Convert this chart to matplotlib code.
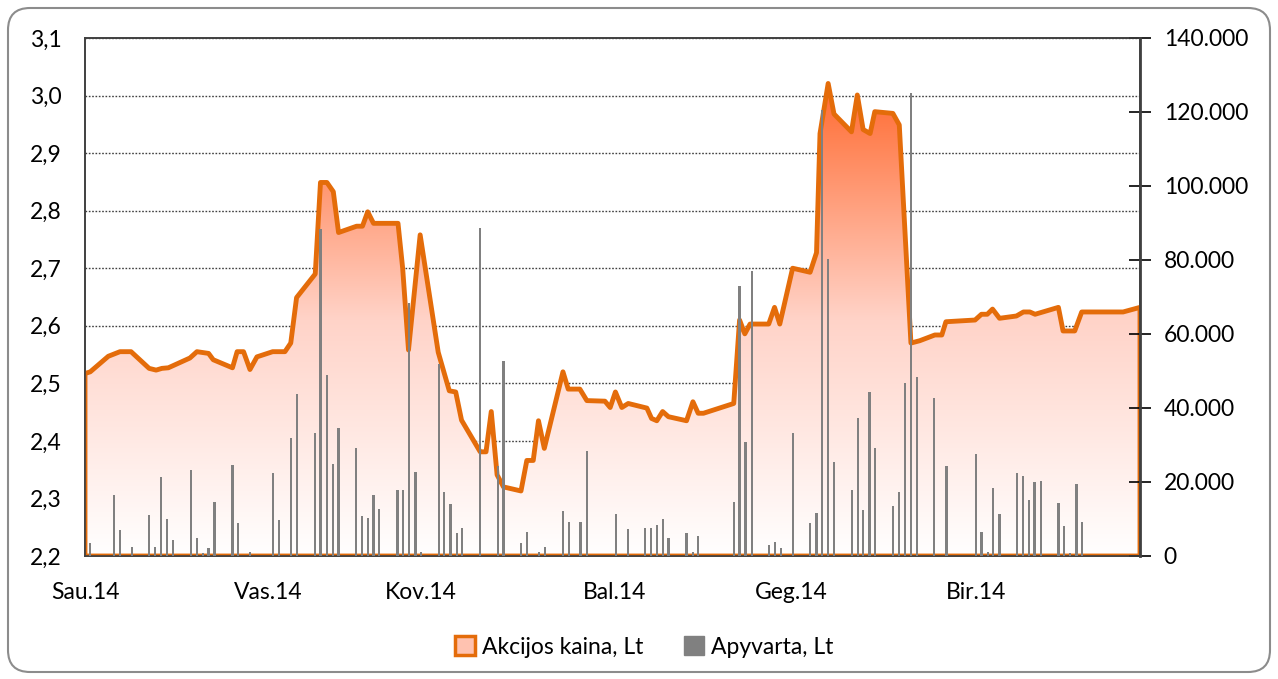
import numpy as np
import matplotlib
matplotlib.use("Agg")
import matplotlib.pyplot as plt
from matplotlib.colors import LinearSegmentedColormap
from matplotlib.patches import Patch, FancyBboxPatch
from matplotlib.ticker import FuncFormatter

plt.rcParams['font.family'] = ['Lato', 'DejaVu Sans']

# kaina: diena nuo sausio 1 d. ir kaina, Lt
price_days = [0, 0.9, 4.0, 6.0, 7.9, 11.0, 12.2, 13.2, 14.3, 18.0,
              19.2, 21.2, 22.0, 25.3, 26.1, 27.2, 28.3, 29.5, 32.2, 34.3,
              35.3, 36.3, 39.5, 40.4, 41.5, 42.6, 43.5, 46.6, 47.6, 48.5,
              49.5, 53.7, 54.5, 55.5, 57.5, 60.6, 62.5, 63.6, 64.6, 67.8,
              68.8, 69.7, 70.7, 71.8, 74.8, 75.8, 76.9, 77.8, 78.8, 82.0,
              82.9, 84.9, 86.1, 89.2, 90.1, 91.0, 92.1, 93.2, 96.4, 97.2,
              98.1, 99.1, 100.1, 103.2, 104.3, 105.2, 106.1, 111.3, 112.3, 113.2,
              114.1, 117.3, 118.3, 119.2, 121.4, 124.4, 125.5, 126.1, 127.5, 128.5,
              131.5, 132.5, 133.5, 134.7, 135.5, 138.6, 139.7, 141.7, 143.2, 145.8,
              147.0, 147.7, 152.7, 153.8, 154.8, 155.7, 156.9, 159.8, 161.0, 162.1,
              163.0, 167.0, 167.8, 169.8, 171.0, 178.1, 181.0]
price = [2.517, 2.520, 2.547, 2.555, 2.555, 2.526, 2.523, 2.526, 2.527, 2.544,
         2.555, 2.552, 2.541, 2.527, 2.555, 2.555, 2.524, 2.546, 2.555, 2.555,
         2.570, 2.649, 2.690, 2.849, 2.849, 2.833, 2.762, 2.773, 2.773, 2.798,
         2.778, 2.778, 2.700, 2.558, 2.758, 2.554, 2.487, 2.485, 2.436, 2.381,
         2.381, 2.451, 2.341, 2.320, 2.313, 2.366, 2.366, 2.435, 2.387, 2.520,
         2.490, 2.490, 2.470, 2.469, 2.458, 2.485, 2.458, 2.465, 2.457, 2.439,
         2.435, 2.451, 2.442, 2.435, 2.468, 2.448, 2.448, 2.465, 2.610, 2.586,
         2.603, 2.603, 2.632, 2.603, 2.700, 2.693, 2.727, 2.934, 3.021, 2.968,
         2.937, 3.001, 2.941, 2.934, 2.972, 2.969, 2.949, 2.570, 2.574, 2.584,
         2.584, 2.607, 2.610, 2.620, 2.620, 2.629, 2.613, 2.617, 2.624, 2.624,
         2.620, 2.632, 2.591, 2.591, 2.624, 2.624, 2.632]

# apyvarta, Lt
vol_days = [0.9, 5.0, 6.0, 8.0, 11.0, 12.0, 13.0, 14.1, 15.1, 18.2,
            19.2, 20.2, 21.2, 22.2, 25.3, 26.3, 28.3, 32.3, 33.3, 35.3,
            36.4, 39.5, 40.4, 41.5, 42.5, 43.5, 46.5, 47.5, 48.5, 49.5,
            50.5, 53.6, 54.6, 55.6, 56.7, 57.6, 60.7, 61.6, 62.7, 63.8,
            64.7, 67.8, 70.8, 71.8, 74.8, 75.8, 77.9, 78.9, 82.0, 83.0,
            85.0, 86.1, 91.1, 93.1, 96.1, 97.1, 98.1, 99.1, 100.1, 103.2,
            104.3, 105.2, 111.3, 112.3, 113.3, 114.4, 117.4, 118.4, 119.4, 121.5,
            124.4, 125.5, 126.4, 127.5, 128.5, 131.6, 132.6, 133.5, 134.6, 135.6,
            138.6, 139.6, 140.7, 141.7, 142.7, 145.7, 147.8, 152.9, 153.8, 154.9,
            155.8, 156.9, 159.9, 160.9, 161.9, 162.9, 164.0, 167.0, 168.0, 169.0,
            170.1, 171.1]
volume = [3600, 16500, 7000, 2500, 11100, 2500, 21400, 9900, 4300, 23300,
          5000, 900, 2100, 14700, 24600, 8800, 1200, 22400, 9700, 31800,
          43800, 33300, 88300, 48900, 24800, 34700, 29100, 10800, 10400, 16500,
          12800, 17800, 17800, 68300, 22800, 1200, 51900, 17200, 14000, 6300,
          7700, 88700, 24400, 52800, 3600, 6600, 1200, 2500, 12200, 9300,
          9300, 28400, 11400, 7200, 7500, 7700, 8400, 10000, 5000, 6300,
          1200, 5400, 14500, 73000, 30900, 77100, 3000, 3700, 2100, 33200,
          8800, 11500, 120600, 80400, 25400, 17800, 37400, 12400, 44300, 29100,
          13600, 17400, 46700, 125200, 48500, 42600, 24400, 27700, 6400, 1000,
          18300, 11400, 22500, 21600, 15100, 20100, 20300, 14400, 8100, 700,
          19500, 9100]

month_pos = [0, 31.4, 57.6, 90.9, 121.1, 152.9]
month_labels = ["Sau.14", "Vas.14", "Kov.14", "Bal.14", "Geg.14", "Bir.14"]

orange = "#E46C0A"
gray = "#808080"

fig = plt.figure(figsize=(12.78, 6.79), dpi=100)
ax = fig.add_axes([85 / 1278, 1 - 556 / 679, (1140 - 85) / 1278, (556 - 38) / 679])

ymin, ymax = 2.2, 3.1
ax.set_xlim(0, 181)
ax.set_ylim(ymin, ymax)

# plotas su gradientu
poly = ax.fill_between(price_days, price, ymin, facecolor="none",
                       edgecolor=orange, linewidth=3.5, zorder=3)
poly.set_joinstyle("round")
cmap = LinearSegmentedColormap.from_list("grad", ["#FFFFFF", "#FFD3C8", "#FF6A30"])
grad = np.linspace(0, 1, 256).reshape(-1, 1)
img = ax.imshow(grad, cmap=cmap, aspect="auto", origin="lower",
                extent=[0, 181, ymin, max(price)], zorder=2)
img.set_clip_path(poly.get_paths()[0], transform=ax.transData)

ax.set_yticks(np.arange(2.2, 3.11, 0.1))
ax.yaxis.set_major_formatter(FuncFormatter(lambda v, p: f"{v:.1f}".replace(".", ",")))
ax.yaxis.grid(True, linestyle=(0, (1.2, 1.2)), color="#404040", linewidth=1.0, zorder=1)
ax.set_axisbelow(True)
ax.tick_params(axis="y", length=0, labelsize=16.5, pad=17, colors="black")
ax.set_xticks(month_pos)
ax.set_xticklabels(month_labels)
ax.tick_params(axis="x", length=0, labelsize=16.5, pad=19)

# apyvarta ant antros ašies
ax2 = ax.twinx()
ax2.bar(vol_days, volume, width=0.38, color=gray, zorder=4)
ax2.set_ylim(0, 140000)
ax2.set_yticks(np.arange(0, 140001, 20000))
ax2.yaxis.set_major_formatter(FuncFormatter(lambda v, p: f"{int(v):,}".replace(",", ".")))
ax2.tick_params(axis="y", direction="inout", length=16, width=1.2, labelsize=16.5, pad=9)

for a in (ax, ax2):
    for s in a.spines.values():
        s.set_color("#404040")
        s.set_linewidth(1.2)
ax2.spines["right"].set_linewidth(2)

handles = [Patch(facecolor="#FFC2B0", edgecolor=orange, linewidth=2.5),
           Patch(facecolor=gray, edgecolor=gray)]
fig.legend(handles, ["Akcijos kaina, Lt", "Apyvarta, Lt"], loc="center",
           bbox_to_anchor=(0.504, 1 - 647 / 679), ncol=2, frameon=False,
           fontsize=16.5, handlelength=0.85, handleheight=0.85, handletextpad=0.3,
           columnspacing=1.8)

border = FancyBboxPatch((0.08, 0.07), 12.62, 6.64, boxstyle="round,pad=0,rounding_size=0.22",
                        transform=fig.dpi_scale_trans, facecolor="none",
                        edgecolor="#8C8C8C", linewidth=1.5)
fig.patches.append(border)

fig.savefig("out.png", dpi=100)
